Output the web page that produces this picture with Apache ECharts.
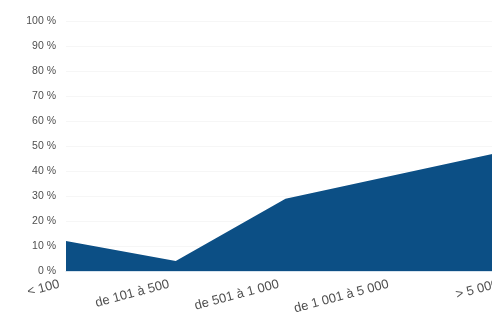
<!DOCTYPE html>
<html>
<head>
<meta charset="utf-8">
<style>
  html, body { margin: 0; padding: 0; background: #ffffff; overflow: hidden; }
  /* the drawing runs a little past the right edge of the window */
  #chart { width: 510px; height: 333px; }
</style>
<script src="https://cdn.jsdelivr.net/npm/echarts@6/dist/echarts.min.js"></script>
</head>
<body>
<div id="chart"></div>
<script>
// Size bands (number of employees)
const categories = ['< 100', 'de 101 à 500', 'de 501 à 1 000', 'de 1 001 à 5 000', '> 5 000'];
// Share per band, in percent
const shares = [12, 4, 29, 38.5, 48];
// Percentage axis
const yMin = 0;
const yMax = 100;
const yStep = 10;

const labelFont = '"Liberation Sans", Arial, sans-serif';

const chart = echarts.init(document.getElementById('chart'), null, { renderer: 'canvas' });

chart.setOption({
  animation: false,
  backgroundColor: '#ffffff',
  grid: { left: 66, top: 21.5, bottom: 62, right: 5, containLabel: false },
  xAxis: {
    type: 'category',
    data: categories,
    boundaryGap: false,
    axisLine: { show: true, lineStyle: { color: '#d6e3ee', width: 1 } },
    axisTick: { show: false },
    splitLine: { show: false },
    axisLabel: {
      rotate: 15,
      margin: 11,
      padding: [0, 7, 0, 0],
      fontSize: 13,
      color: '#4f4f4f',
      fontFamily: labelFont
    }
  },
  yAxis: {
    type: 'value',
    min: yMin,
    max: yMax,
    interval: yStep,
    axisLine: { show: false },
    axisTick: { show: false },
    splitLine: { show: true, lineStyle: { color: '#f6f6f6', width: 1 } },
    axisLabel: {
      margin: 10,
      fontSize: 10.5,
      color: '#4f4f4f',
      fontFamily: labelFont,
      formatter: v => v + ' %'
    }
  },
  series: [{
    type: 'line',
    data: shares,
    symbol: 'none',
    lineStyle: { width: 0 },
    areaStyle: { color: '#0c4f85', opacity: 1 },
    silent: true
  }]
});
</script>
</body>
</html>
